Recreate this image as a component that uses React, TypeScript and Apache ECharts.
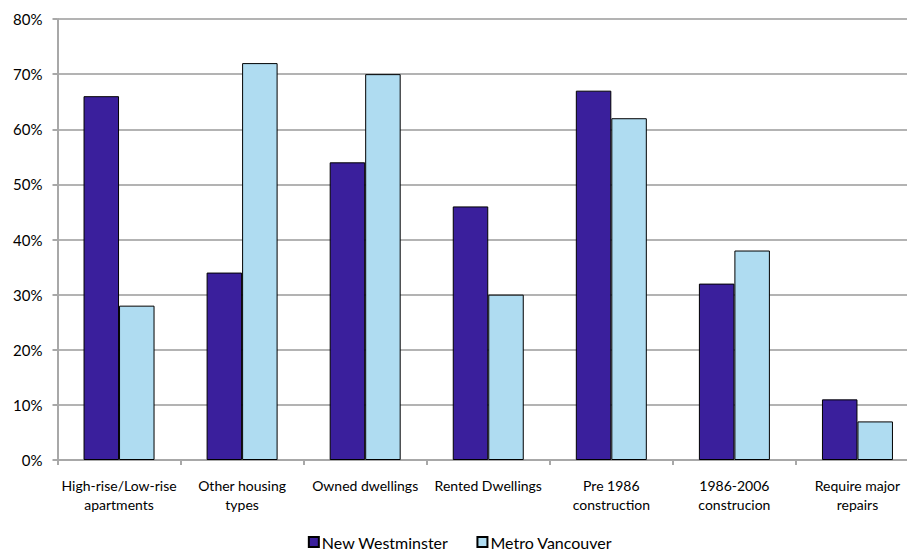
import React, { useEffect, useRef } from "react";
import * as echarts from "echarts";

const categories = [
  "High-rise/Low-rise\napartments",
  "Other housing\ntypes",
  "Owned dwellings",
  "Rented Dwellings",
  "Pre 1986\nconstruction",
  "1986-2006\nconstrucion",
  "Require major\nrepairs",
];
const newWestminster = [66, 34, 54, 46, 67, 32, 11];
const metroVancouver = [28, 72, 70, 30, 62, 38, 7];
const seriesNames = ["New Westminster", "Metro Vancouver"];

const FONT = "Lato, 'Open Sans', sans-serif";

export default function App() {
  const ref = useRef<HTMLDivElement>(null);
  useEffect(() => {
    if (!ref.current) return;
    const chart = echarts.init(ref.current, null, { renderer: "svg" });
    chart.setOption({
      animation: false,
      backgroundColor: "#ffffff",
      textStyle: { fontFamily: FONT },
      grid: { left: 57.5, right: 1, top: 19, bottom: 94, containLabel: false },
      legend: {
        bottom: -1,
        left: "center",
        itemWidth: 10,
        itemHeight: 10,
        itemGap: 28,
        icon: "rect",
        textStyle: { fontSize: 16, color: "#000", fontFamily: FONT, padding: [0, 0, 0, -2] },
        data: seriesNames,
      },
      xAxis: {
        type: "category",
        data: categories,
        axisLine: { lineStyle: { color: "#a8a8a8", width: 2 } },
        axisTick: { show: true, length: 5, lineStyle: { color: "#a8a8a8", width: 2 } },
        axisLabel: { color: "#000", fontSize: 14, lineHeight: 19, margin: 16, interval: 0, fontFamily: FONT },
      },
      yAxis: {
        type: "value",
        min: 0,
        max: 80,
        interval: 10,
        axisLine: { show: true, lineStyle: { color: "#a8a8a8", width: 2 } },
        axisTick: { show: true, length: 5, lineStyle: { color: "#a8a8a8", width: 2 } },
        axisLabel: { color: "#000", fontSize: 15, margin: 15, formatter: "{value}%", fontFamily: FONT },
        splitLine: { lineStyle: { color: "#9a9a9a", width: 1.5 } },
      },
      series: [
        {
          name: seriesNames[0],
          type: "bar",
          data: newWestminster,
          barWidth: 35.5,
          barGap: "0%",
          itemStyle: { color: "#3a1f9c", borderColor: "#000", borderWidth: 1 },
        },
        {
          name: seriesNames[1],
          type: "bar",
          data: metroVancouver,
          barWidth: 35.5,
          barGap: "0%",
          itemStyle: { color: "#afdcf1", borderColor: "#000", borderWidth: 1 },
        },
      ],
    });
    return () => chart.dispose();
  }, []);
  return (
    <div style={{ position: "fixed", left: 0, top: 0, width: 907, height: 554, overflow: "hidden" }}>
      <div ref={ref} style={{ width: 920, height: 554 }} />
    </div>
  );
}
